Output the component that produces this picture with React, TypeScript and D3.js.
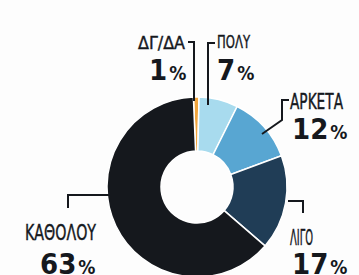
import * as d3 from "d3";

// survey answers, clockwise from 12 o'clock
const categories = ["ΔΓ/ΔΑ", "ΠΟΛΥ", "ΑΡΚΕΤΑ", "ΛΙΓΟ", "ΚΑΘΟΛΟΥ"];
const values = [1, 7, 12, 17, 63];
const colors = ["#f0a43c", "#a8dbee", "#58a6d2", "#203d56", "#15181d"];

// label placement (name/percent baselines, leader polylines)
const labelLayout = [
  { nx: 138, ny: 49, ns: 18, nw: 47, px: 149, py: 80, leader: [[188, 42], [194, 42], [194, 101]] },
  { nx: 217, ny: 48, ns: 18, nw: 33, px: 217, py: 80, leader: [[215, 43], [208, 43], [208, 105]] },
  { nx: 290, ny: 109, ns: 21, nw: 53, px: 292, py: 139, leader: [[289, 100], [282, 100], [282, 120], [262, 134]] },
  { nx: 290, ny: 245, ns: 22, nw: 23, px: 292, py: 274, leader: [[288, 201], [303, 201], [303, 213]] },
  { nx: 25, ny: 240, ns: 22, nw: 71, px: 40, py: 274, leader: [[68, 208], [68, 195], [110, 195]] },
];

const W = 359;
const H = 275;
const cx = 197;
const cy = 187;
const outerR = 90;
const innerR = 36;

const App = () => {
  const pie = d3
    .pie<number>()
    .sort(null)
    .startAngle(-0.04)
    .endAngle(-0.04 + Math.PI * 2)
    .value((d) => d);

  const arc = d3.arc<d3.PieArcDatum<number>>().innerRadius(innerR).outerRadius(outerR);
  const arcs = pie(values);
  const line = d3.line();

  const font = "'DejaVu Sans Condensed', 'Liberation Sans Narrow', sans-serif";

  return (
    <svg
      width={W}
      height={H}
      viewBox={`0 0 ${W} ${H}`}
      style={{ position: "fixed", left: 0, top: 0, background: "#fdfdfd" }}
    >
      <g transform={`translate(${cx},${cy})`}>
        {arcs.map((a, i) => (
          <path key={i} d={arc(a) || ""} fill={colors[i]} stroke="#ffffff" strokeWidth={1.5} />
        ))}
      </g>
      {labelLayout.map((l, i) => (
        <g key={i} fontFamily={font} fill="#15181d">
          <path
            d={line(l.leader as [number, number][]) || ""}
            fill="none"
            stroke="#15181d"
            strokeWidth={2}
          />
          <text
            x={l.nx}
            y={l.ny}
            fontSize={l.ns}
            textLength={l.nw}
            lengthAdjust="spacingAndGlyphs"
            stroke="#15181d"
            strokeWidth={0.4}
          >
            {categories[i]}
          </text>
          <text x={l.px} y={l.py} fontWeight="bold">
            <tspan fontSize={29}>{values[i]}</tspan>
            <tspan fontSize={19} dx={2}>%</tspan>
          </text>
        </g>
      ))}
    </svg>
  );
};

export default App;
